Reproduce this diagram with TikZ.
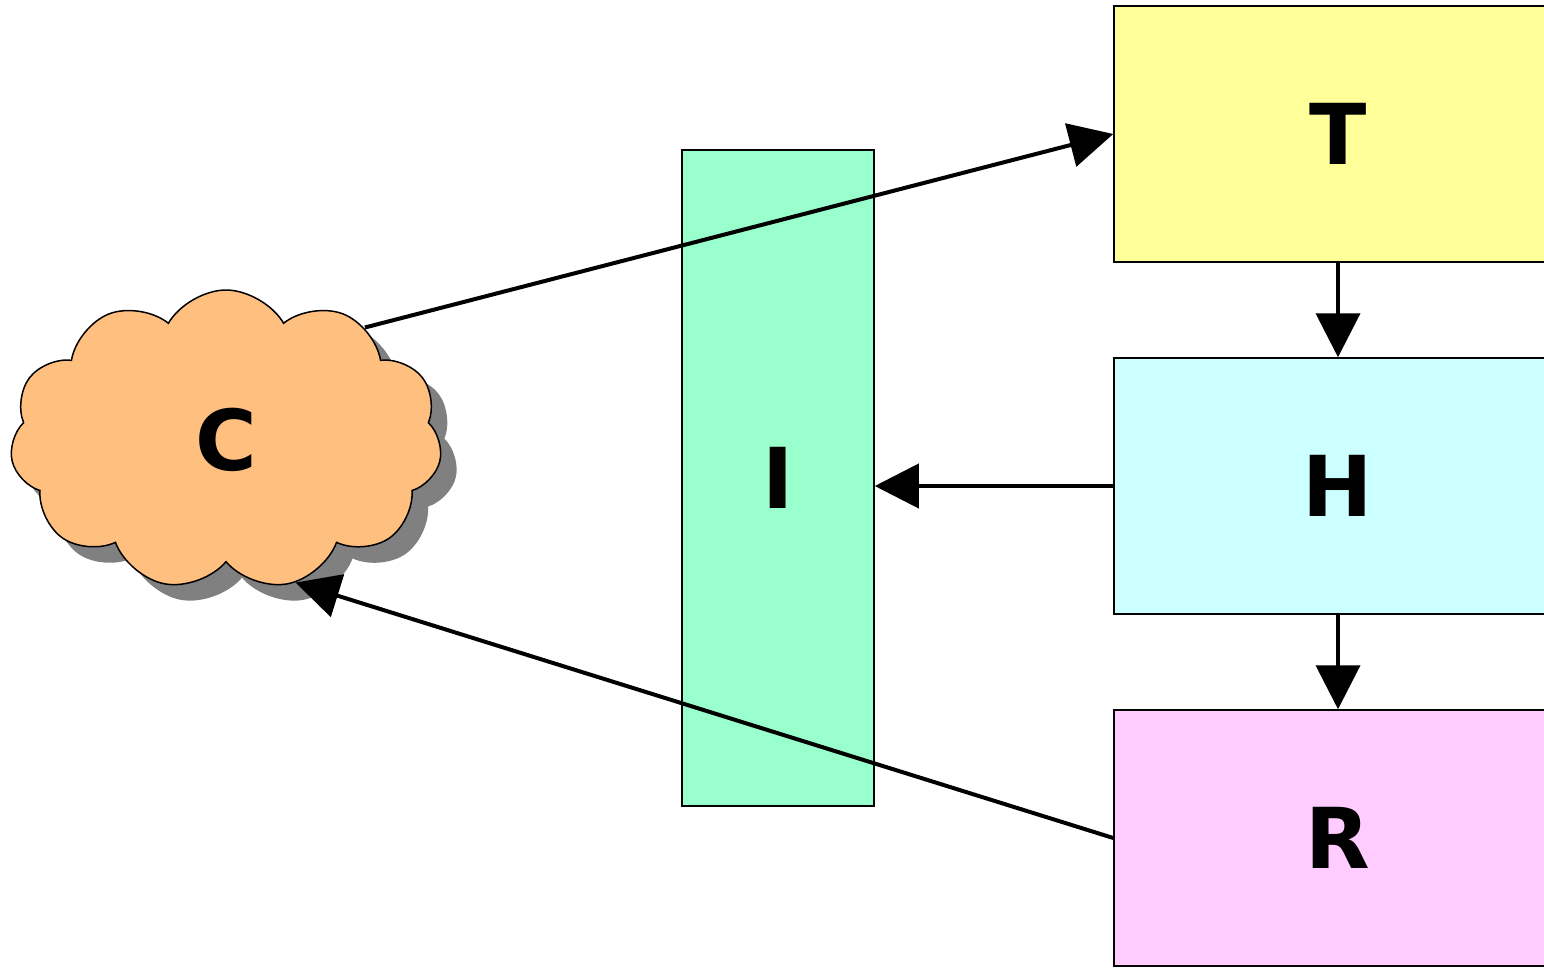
\documentclass[tikz,border=0pt]{standalone}
\usepackage{fontspec}
\setmainfont{DejaVu Sans}
\usetikzlibrary{arrows.meta,shapes.symbols,shadows}
\definecolor{tyellow}{HTML}{FFFF99}
\definecolor{hcyan}{HTML}{CCFFFF}
\definecolor{rpink}{HTML}{FFCCFF}
\definecolor{igreen}{HTML}{99FFCC}
\definecolor{corange}{HTML}{FFBF7F}
\tikzset{
  letter/.style={font=\bfseries\fontsize{84}{90}\selectfont},
  box/.style={draw, line width=1.5pt, minimum width=448pt, minimum height=256pt, letter},
  flow/.style={line width=4pt, -{Triangle[length=44pt,width=44pt]}},
}
\begin{document}
\begin{tikzpicture}[x=1pt,y=-1pt]
  \useasboundingbox (0,0) rectangle (1544,968);
  \node[cloud, cloud puffs=11, cloud puff arc=120, draw, line width=1.5pt, fill=corange,
        minimum width=432pt, minimum height=300pt, letter,
        drop shadow={shadow xshift=16pt, shadow yshift=-16pt, fill=black!50, opacity=1}] (c) at (226,440) {C};
  \node[draw, line width=1.5pt, fill=igreen, minimum width=192pt, minimum height=656pt, letter] (i) at (778,478) {I};
  \node[box, fill=tyellow] (t) at (1338,134) {T};
  \node[box, fill=hcyan] (h) at (1338,486) {H};
  \node[box, fill=rpink] (r) at (1338,838) {R};
  \draw[flow] (c.39) -- (t.west);
  \draw[flow] (t) -- (h);
  \draw[flow] (h) -- (r);
  \draw[flow] (h.west) -- (h.west -| i.east);
  \draw[flow] (r.west) -- (c.-64);
\end{tikzpicture}
\end{document}
